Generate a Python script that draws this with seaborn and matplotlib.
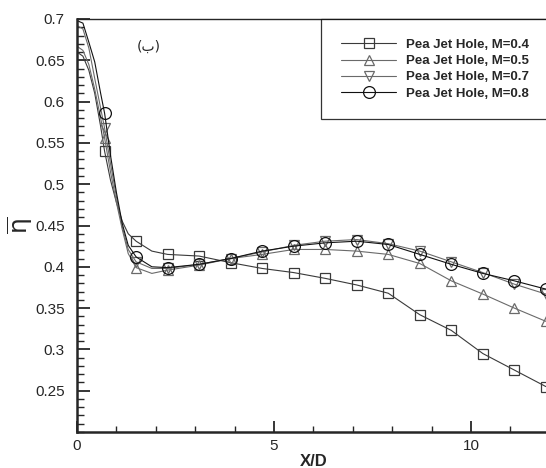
import numpy as np
import pandas as pd
import matplotlib
matplotlib.use("Agg")
import matplotlib.pyplot as plt
import seaborn as sns
from matplotlib.ticker import MultipleLocator

# ---- data ----
XD = [0, 0.15, 0.3, 0.45, 0.6, 0.7, 0.85, 1.0, 1.15, 1.3, 1.5, 1.9, 2.3, 3.1, 3.9,
      4.7, 5.5, 6.3, 7.1, 7.9, 8.7, 9.5, 10.3, 11.1, 11.9]
MARK_X = [0.7, 1.5, 2.3, 3.1, 3.9, 4.7, 5.5, 6.3, 7.1, 7.9, 8.7, 9.5, 10.3, 11.1, 11.9]

eta_M04 = [0.660, 0.655, 0.638, 0.610, 0.570, 0.540, 0.505, 0.478, 0.455, 0.440, 0.431,
           0.419, 0.415, 0.413, 0.405, 0.398, 0.393, 0.386, 0.378, 0.368, 0.342, 0.323,
           0.295, 0.275, 0.255]
eta_M05 = [0.667, 0.662, 0.645, 0.615, 0.580, 0.556, 0.515, 0.478, 0.445, 0.416, 0.399,
           0.392, 0.396, 0.402, 0.410, 0.415, 0.421, 0.421, 0.419, 0.415, 0.404, 0.383,
           0.367, 0.350, 0.334]
eta_M07 = [0.692, 0.688, 0.665, 0.628, 0.592, 0.568, 0.525, 0.485, 0.448, 0.421, 0.406,
           0.398, 0.398, 0.403, 0.410, 0.418, 0.426, 0.431, 0.433, 0.428, 0.419, 0.406,
           0.393, 0.379, 0.367]
eta_M08 = [0.698, 0.695, 0.672, 0.648, 0.610, 0.586, 0.535, 0.490, 0.452, 0.426, 0.412,
           0.400, 0.399, 0.403, 0.410, 0.419, 0.425, 0.429, 0.431, 0.427, 0.415, 0.403,
           0.392, 0.383, 0.373]

labels = ["Pea Jet Hole, M=0.4", "Pea Jet Hole, M=0.5",
          "Pea Jet Hole, M=0.7", "Pea Jet Hole, M=0.8"]
series = [eta_M04, eta_M05, eta_M07, eta_M08]
markers = ["s", "^", "v", "o"]
msizes = [7, 7.5, 7.5, 8.5]
colors = ["#3a3a3a", "#6a6a6a", "#6a6a6a", "#111111"]

sns.set_style("ticks")
plt.rcParams["font.family"] = ["Liberation Sans", "DejaVu Sans"]

fig = plt.figure(figsize=(5.46, 4.68), dpi=100)
ax = fig.add_axes([77 / 546, 36 / 468, 472.8 / 546, 413 / 468])

mark_idx = [XD.index(m) for m in MARK_X]
for lab, ys, mk, ms, c in zip(labels, series, markers, msizes, colors):
    df = pd.DataFrame({"X/D": XD, "eta": ys})
    sns.lineplot(data=df, x="X/D", y="eta", ax=ax, color=c, lw=0.8, marker=mk,
                 markersize=ms, markerfacecolor="none", markeredgecolor=c,
                 markeredgewidth=0.9, markevery=mark_idx, sort=False,
                 estimator=None, label=lab)

ax.set_xlim(0, 12)
ax.set_ylim(0.2, 0.7)
ax.xaxis.set_minor_locator(MultipleLocator(1))
ax.yaxis.set_minor_locator(MultipleLocator(0.01))
ax.set_yticks([0.25, 0.3, 0.35, 0.4, 0.45, 0.5, 0.55, 0.6, 0.65, 0.7])
ax.set_yticklabels(["0.25", "0.3", "0.35", "0.4", "0.45", "0.5", "0.55", "0.6", "0.65", "0.7"])
ax.set_xticks([0, 5, 10])
ax.set_xticklabels(["0", "5", "10"])
ax.tick_params(which="major", direction="in", length=9, width=1.3, labelsize=11, pad=5)
ax.tick_params(axis="y", which="major", pad=9)
ax.tick_params(which="minor", direction="in", length=5, width=1.0)
ax.tick_params(axis="x", which="major", length=8)
ax.tick_params(axis="x", which="minor", length=4)
for s in ["left", "bottom"]:
    ax.spines[s].set_linewidth(1.8)
ax.spines["top"].set_linewidth(1.0)
ax.spines["right"].set_linewidth(1.0)

ax.set_xlabel("X/D", fontsize=12, fontweight="bold", labelpad=1)
ax.set_ylabel(r"$\overline{\mathrm{\eta}}$", fontsize=18, rotation=90)
ax.yaxis.set_label_coords(-0.088, 0.5)

ax.text((149 - 77) / 472.8, 1 - 28 / 413, "(ب)", transform=ax.transAxes,
        fontsize=10, ha="center", va="center", family=["DejaVu Sans"])

leg = ax.legend(loc="upper left", bbox_to_anchor=(321 / 546, 1 - 19 / 468),
                bbox_transform=fig.transFigure, borderaxespad=0, frameon=True,
                fancybox=False, edgecolor="black", prop={"size": 9.5, "weight": "bold"},
                handlelength=4.2, handletextpad=0.75, labelspacing=0.3, borderpad=1.5)
leg.get_frame().set_linewidth(0.9)

fig.savefig("out.png", dpi=100)
